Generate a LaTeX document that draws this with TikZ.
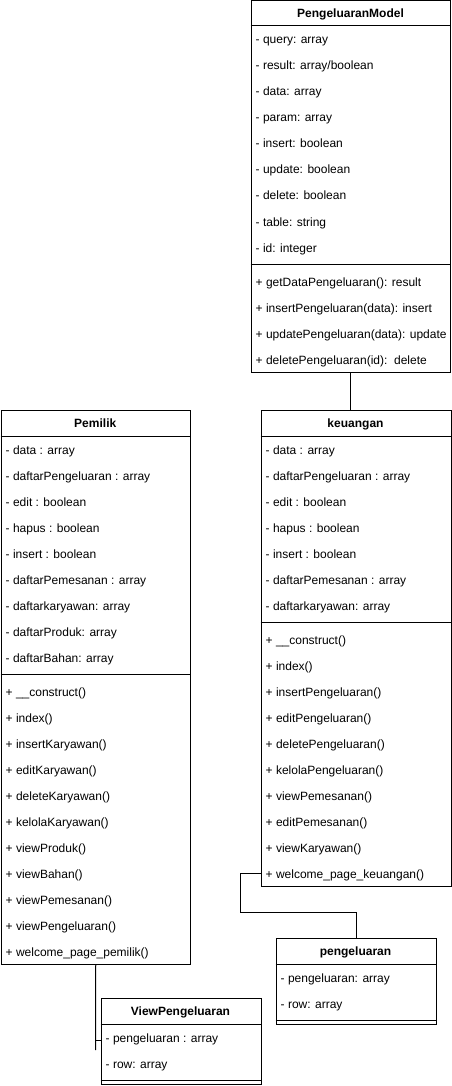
\documentclass[tikz,border=0pt]{standalone}
\usepackage{fontspec}
\setmainfont{Liberation Sans}
\begin{document}
\begin{tikzpicture}[x=1pt,y=-1pt,
  classbox/.style={draw=black, line width=1pt, anchor=north west, inner sep=0pt},
  sepline/.style={draw=black, line width=1pt},
  ctitle/.style={font=\fontsize{12}{14}\selectfont\bfseries, anchor=base, inner sep=0pt},
  crow/.style={font=\fontsize{12}{14}\selectfont, anchor=base west, inner sep=0pt},
  conn/.style={draw=black, line width=1pt}]
\useasboundingbox (0,0) rectangle (452,1086);

% ---------- PengeluaranModel ----------
\node[classbox, minimum width=199pt, minimum height=371.5pt] (pm) at (250.5,0.5) {};
\node[ctitle] (pm-t) at (350.5,17.8) {PengeluaranModel};
\draw[sepline] (250.5,26) -- (449.5,26);
\draw[sepline] (250.5,264) -- (449.5,264);
\foreach \t [count=\i] in {- query: array, - result: array/boolean, - data: array, - param: array, - insert: boolean, - update: boolean, - delete: boolean, - table: string, - id: integer}
  \node[crow] (pm-a\i) at (255.5,{44+26*(\i-1)}) {\t};
\foreach \t [count=\i] in {+ getDataPengeluaran(): result, + insertPengeluaran(data): insert, + updatePengeluaran(data): update, + deletePengeluaran(id):\ \ delete}
  \node[crow] (pm-m\i) at (255.5,{286+26*(\i-1)}) {\t};

% ---------- Pemilik ----------
\node[classbox, minimum width=189.5pt, minimum height=554pt] (pem) at (0.5,410) {};
\node[ctitle] (pem-t) at (95.25,427.8) {Pemilik};
\draw[sepline] (0.5,436) -- (190,436);
\draw[sepline] (0.5,674) -- (190,674);
\foreach \t [count=\i] in {- data : array, - daftarPengeluaran : array, - edit : boolean, - hapus : boolean, - insert : boolean, - daftarPemesanan : array, - daftarkaryawan: array, - daftarProduk: array, - daftarBahan: array}
  \node[crow] (pem-a\i) at (5.5,{454+26*(\i-1)}) {\t};
\foreach \t [count=\i] in {+ \_\_construct(), + index(), + insertKaryawan(), + editKaryawan(), + deleteKaryawan(), + kelolaKaryawan(), + viewProduk(), + viewBahan(), + viewPemesanan(), + viewPengeluaran(), + welcome\_page\_pemilik()}
  \node[crow] (pem-m\i) at (5.5,{696+26*(\i-1)}) {\t};

% ---------- keuangan ----------
\node[classbox, minimum width=190pt, minimum height=476pt] (keu) at (260.5,410) {};
\node[ctitle] (keu-t) at (355.5,427.8) {keuangan};
\draw[sepline] (260.5,436) -- (450.5,436);
\draw[sepline] (260.5,622) -- (450.5,622);
\foreach \t [count=\i] in {- data : array, - daftarPengeluaran : array, - edit : boolean, - hapus : boolean, - insert : boolean, - daftarPemesanan : array, - daftarkaryawan: array}
  \node[crow] (keu-a\i) at (265.5,{454+26*(\i-1)}) {\t};
\foreach \t [count=\i] in {+ \_\_construct(), + index(), + insertPengeluaran(), + editPengeluaran(), + deletePengeluaran(), + kelolaPengeluaran(), + viewPemesanan(), + editPemesanan(), + viewKaryawan(), + welcome\_page\_keuangan()}
  \node[crow] (keu-m\i) at (265.5,{644+26*(\i-1)}) {\t};

% ---------- pengeluaran ----------
\node[classbox, minimum width=160pt, minimum height=86pt] (pg) at (275.5,938) {};
\node[ctitle] (pg-t) at (355.5,955.8) {pengeluaran};
\draw[sepline] (275.5,964) -- (435.5,964);
\draw[sepline] (275.5,1020) -- (435.5,1020);
\foreach \t [count=\i] in {- pengeluaran: array, - row: array}
  \node[crow] (pg-a\i) at (280.5,{982+26*(\i-1)}) {\t};

% ---------- ViewPengeluaran ----------
\node[classbox, minimum width=160pt, minimum height=86pt] (vp) at (100.5,998) {};
\node[ctitle] (vp-t) at (180.5,1015.8) {ViewPengeluaran};
\draw[sepline] (100.5,1024) -- (260.5,1024);
\draw[sepline] (100.5,1080) -- (260.5,1080);
\foreach \t [count=\i] in {- pengeluaran : array, - row: array}
  \node[crow] (vp-a\i) at (105.5,{1042+26*(\i-1)}) {\t};

% ---------- connectors ----------
\draw[conn] (pm.south) -- (pm.south |- keu.north);

\coordinate (k1) at (240.5,873);
\coordinate (k2) at (240.5,912);
\draw[conn] (keu.west |- k1) -- (k1) -- (k2) -- (pg.north |- k2) -- (pg.north);

\coordinate (p1) at (95.5,1050);
\coordinate (p2) at (95.5,1040);
\draw[conn] (pem.south) -- (p1);
\draw[conn] (p2) -- (vp.west |- p2);
\end{tikzpicture}
\end{document}
